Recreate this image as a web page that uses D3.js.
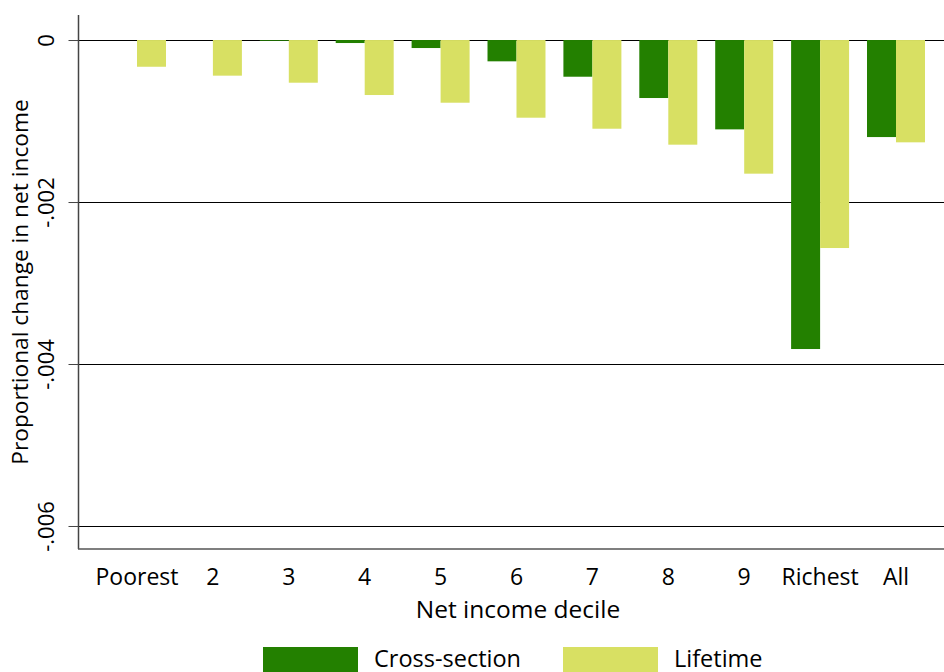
<!DOCTYPE html>
<html><head><meta charset="utf-8">
<script src="https://cdn.jsdelivr.net/npm/d3@7"></script>
<style>body{margin:0;background:#fff}svg{display:block}text{font-family:"Open Sans","Noto Sans",sans-serif;fill:#000}</style>
</head><body><svg id="c" width="944" height="672"></svg>
<script>
const categories = ["Poorest","2","3","4","5","6","7","8","9","Richest","All"];
const crossSection = [0, 0, -0.00001, -0.000037, -0.0000988, -0.000263, -0.000453, -0.000716, -0.001103, -0.003815, -0.001198];
const lifetime = [-0.00033, -0.00044, -0.000527, -0.000679, -0.000774, -0.000959, -0.001095, -0.001292, -0.00165, -0.002568, -0.001263];
const yTicks = [0, -0.002, -0.004, -0.006];
const yTickLabels = ["0", "-.002", "-.004", "-.006"];
const seriesNames = ["Cross-section", "Lifetime"];
const colors = ["#238000", "#d8e063"];

(function () {
const svg = d3.select("#c");
const pL = 78, pR = 944, pT = 15, pB = 549;
const y = d3.scaleLinear().domain([0.000309, -0.006284]).range([pT, pB]);
const x = d3.scaleBand().domain(categories).range([99.05, 933.95]).paddingInner(0.236).paddingOuter(0.118);
const xs = d3.scaleBand().domain(seriesNames).range([0, x.bandwidth()]);

// gridlines
svg.append("g").selectAll("line").data(yTicks).join("line")
  .attr("x1", pL).attr("x2", pR).attr("y1", d => Math.round(y(d)) + 0.5).attr("y2", d => Math.round(y(d)) + 0.5)
  .attr("stroke", "#000").attr("stroke-width", 1);

// bars
const data = categories.map((c, i) => ({c, vals: [crossSection[i], lifetime[i]]}));
const g = svg.append("g");
data.forEach(d => {
  d.vals.forEach((v, j) => {
    g.append("rect")
      .attr("x", x(d.c) + xs(seriesNames[j]))
      .attr("width", xs.bandwidth())
      .attr("y", y(0))
      .attr("height", Math.max(0, y(v) - y(0)))
      .attr("fill", colors[j]);
  });
});

// y axis
const ya = d3.axisLeft(y).tickValues(yTicks).tickSize(10).tickFormat((d, i) => yTickLabels[i]);
const yg = svg.append("g").attr("transform", `translate(${pL + 0.5},0)`).call(ya);
yg.select(".domain").attr("d", `M0,${pT}V${pB}`).attr("stroke", "#444").attr("stroke-width", 1.5);
yg.selectAll(".tick line").attr("stroke", "#444");
yg.selectAll(".tick text").attr("font-size", 22).attr("transform", "rotate(-90)")
  .attr("x", 0).attr("y", -25).attr("dy", 0).attr("text-anchor", "middle");

// x axis
const xa = d3.axisBottom(x).tickSize(0);
const xg = svg.append("g").attr("transform", `translate(0,${pB})`).call(xa);
xg.select(".domain").attr("d", `M${pL},0H${pR}`).attr("stroke", "#555").attr("stroke-width", 1.5);
xg.selectAll(".tick text").attr("font-size", 23).attr("y", 36).attr("dy", 0);

// titles
svg.append("text").attr("x", 518).attr("y", 618).attr("text-anchor", "middle").attr("font-size", 24.5).text("Net income decile");
svg.append("text").attr("transform", `translate(28,${(pT + pB) / 2}) rotate(-90)`).attr("text-anchor", "middle").attr("font-size", 22.7).text("Proportional change in net income");

// legend
const lg = svg.append("g");
const legX = [263, 563];
seriesNames.forEach((s, j) => {
  lg.append("rect").attr("x", legX[j]).attr("y", 647).attr("width", 95).attr("height", 30).attr("fill", colors[j]);
  lg.append("text").attr("x", legX[j] + 111).attr("y", 667).attr("font-size", 23.5).text(s);
});
})();
</script></body></html>
